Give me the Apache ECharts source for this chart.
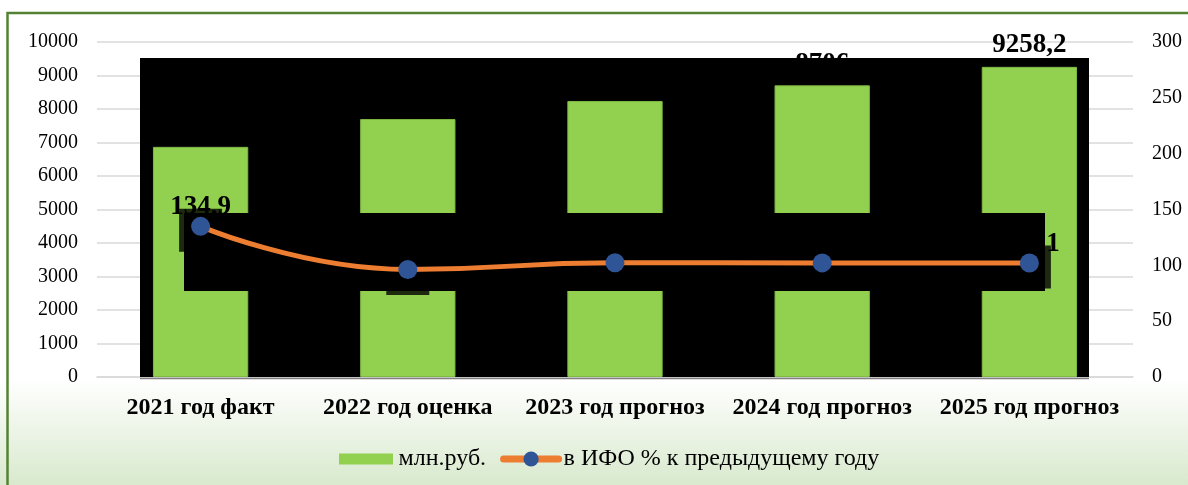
<!DOCTYPE html>
<html>
<head>
<meta charset="utf-8">
<script src="https://cdn.jsdelivr.net/npm/echarts@6/dist/echarts.min.js"></script>
<style>
html,body{margin:0;padding:0;background:#fff;}
#chart{width:1188px;height:485px;}
</style>
</head>
<body>
<div id="chart"></div>
<script>
// ---- data ----
var categories = ['2021 год факт', '2022 год оценка', '2023 год прогноз', '2024 год прогноз', '2025 год прогноз'];
var amountName = 'млн.руб.';
var amountValues = [6870, 7700, 8240, 8706, 9258.2];
var ratioName = 'в ИФО % к предыдущему году';
var ratioValues = [134.9, 96.3, 102.3, 102.2, 102.1];
var leftTicks = {min: 0, max: 10000, interval: 1000};
var rightTicks = {min: 0, max: 300, interval: 50};

var SERIF = '"Liberation Serif", "Times New Roman", serif';
function fmt(v) { return String(v).replace('.', ','); }
function plain(v) { return String(v); }

var chart = echarts.init(document.getElementById('chart'), null, {renderer: 'canvas'});
chart.setOption({
  animation: false,
  textStyle: {fontFamily: SERIF},
  grid: {left: 97, right: 55, top: 42, bottom: 108, containLabel: false},
  xAxis: {
    type: 'category',
    data: categories,
    axisTick: {show: false},
    axisLine: {show: true, lineStyle: {color: '#d9d9d9', width: 1.5}},
    axisLabel: {interval: 0, margin: 19, color: '#000', fontFamily: SERIF, fontWeight: 'bold', fontSize: 24}
  },
  yAxis: [{
    type: 'value',
    min: leftTicks.min, max: leftTicks.max, interval: leftTicks.interval,
    axisLine: {show: false}, axisTick: {show: false},
    axisLabel: {margin: 19, color: '#000', fontFamily: SERIF, fontSize: 20, formatter: plain},
    splitLine: {show: true, lineStyle: {color: '#d9d9d9', width: 1.5}}
  }, {
    type: 'value',
    min: rightTicks.min, max: rightTicks.max, interval: rightTicks.interval,
    axisLine: {show: false}, axisTick: {show: false},
    axisLabel: {margin: 19, color: '#000', fontFamily: SERIF, fontSize: 20, formatter: plain},
    splitLine: {show: false}
  }],
  legend: {
    data: [
      {name: amountName, icon: 'path://M0,0M0,4H54V15H0ZM54,19', itemStyle: {borderWidth: 0}},
      {name: ratioName}
    ],
    left: 334, top: 442,
    itemWidth: 55, itemHeight: 19, itemGap: 14,
    lineStyle: {width: 7},
    textStyle: {fontFamily: SERIF, fontSize: 24, color: '#000'}
  },
  graphic: [
    {type: 'rect', z: -10, silent: true, shape: {x: 0, y: 0, width: 1188, height: 485},
      style: {fill: new echarts.graphic.LinearGradient(0, 0, 0, 1, [
        {offset: 0, color: '#ffffff'}, {offset: 0.78, color: '#ffffff'},
        {offset: 0.84, color: '#f5f9f2'}, {offset: 1, color: '#d8e9cd'}]), stroke: null}},
    {type: 'rect', z: 1, silent: true, shape: {x: 140, y: 58, width: 949, height: 319}, style: {fill: '#000'}},
    {type: 'line', z: 1, silent: true, shape: {x1: 140, y1: 378.5, x2: 1089, y2: 378.5}, style: {stroke: '#808080', lineWidth: 1.5}},
    {type: 'rect', z: 3, silent: true, shape: {x: 184, y: 213, width: 861, height: 78}, style: {fill: '#000'}},
    {type: 'rect', z: 10, silent: true, shape: {x: 7.5, y: 13, width: 1400, height: 700}, style: {fill: null, stroke: '#548235', lineWidth: 2.5}}
  ],
  series: [{
    name: amountName,
    type: 'bar',
    data: amountValues,
    yAxisIndex: 0,
    barWidth: '46%',
    z: 2,
    itemStyle: {color: '#92D050', borderColor: '#7fb944', borderWidth: 1},
    label: {show: true, position: 'top', distance: 8, color: '#000', fontFamily: SERIF, fontWeight: 'bold', fontSize: 27,
      formatter: function (p) { return fmt(p.value); }}
  }, {
    name: 'artifact',
    type: 'scatter',
    data: ratioValues,
    yAxisIndex: 1,
    symbol: 'rect',
    symbolSize: 43,
    symbolOffset: [0, 4],
    z: 3,
    silent: true,
    itemStyle: {color: '#000'}
  }, {
    name: ratioName,
    type: 'line',
    data: ratioValues,
    yAxisIndex: 1,
    smooth: 0.5,
    z: 4,
    symbol: 'circle',
    symbolSize: 19,
    lineStyle: {color: '#ED7D31', width: 5, cap: 'round'},
    itemStyle: {color: '#2F5597', borderWidth: 0},
    label: {show: true, position: 'top', distance: -4, color: '#000', fontFamily: SERIF, fontWeight: 'bold', fontSize: 27,
      formatter: function (p) { return fmt(p.value); }}
  }]
});
</script>
</body>
</html>
